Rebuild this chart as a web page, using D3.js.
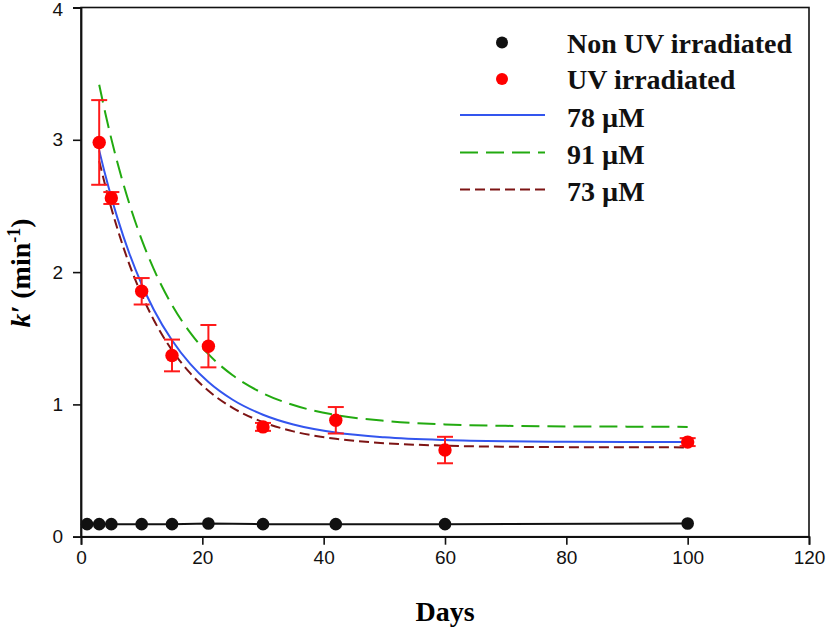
<!DOCTYPE html>
<html><head><meta charset="utf-8">
<script src="https://cdn.jsdelivr.net/npm/d3@7"></script>
<style>body{margin:0;background:#fff}</style>
</head><body>
<svg id="c" width="827" height="629"></svg>
<script>
// Non UV irradiated
const nonUvDays = [1, 3, 5, 10, 15, 21, 30, 42, 60, 100];
const nonUvK    = [0.095, 0.095, 0.095, 0.095, 0.095, 0.1, 0.095, 0.095, 0.095, 0.1];
// UV irradiated (mean and error)
const uvDays = [3, 5, 10, 15, 21, 30, 42, 60, 100];
const uvK    = [2.98, 2.56, 1.855, 1.37, 1.44, 0.83, 0.88, 0.655, 0.715];
const uvErr  = [0.32, 0.045, 0.1, 0.12, 0.16, 0.03, 0.1, 0.1, 0.03];
// Fitted curves
const fitDays = [3, 4, 5, 6, 8, 10, 12, 15, 18, 21, 25, 30, 35, 42, 50, 60, 70, 80, 90, 100];
const fit78 = [2.92, 2.735, 2.565, 2.41, 2.137, 1.908, 1.716, 1.485, 1.306, 1.169, 1.035, 0.922, 0.848, 0.787, 0.751, 0.730, 0.721, 0.718, 0.716, 0.716];
const fit91 = [3.416, 3.203, 3.007, 2.828, 2.512, 2.246, 2.022, 1.751, 1.542, 1.380, 1.220, 1.084, 0.995, 0.920, 0.876, 0.849, 0.838, 0.833, 0.832, 0.830];
const fit73 = [2.84, 2.654, 2.483, 2.328, 2.055, 1.828, 1.638, 1.410, 1.236, 1.103, 0.974, 0.866, 0.796, 0.740, 0.707, 0.688, 0.680, 0.677, 0.676, 0.675];
const xTicks = [0, 20, 40, 60, 80, 100, 120];
const yTicks = [0, 1, 2, 3, 4];
const legendLabels = ["Non UV irradiated", "UV irradiated", "78 µM", "91 µM", "73 µM"];

const svg = d3.select("#c");
const L = 81, R = 809, T = 7.5, B = 536.7;
const x = d3.scaleLinear().domain([0, 120]).range([L, R]);
const y = d3.scaleLinear().domain([0, 4]).range([B, T]);

const serif = "'Liberation Serif','Times New Roman',serif";
const sans = "'Liberation Sans',Arial,sans-serif";

// frame
svg.append("rect").attr("x", L).attr("y", T).attr("width", R - L).attr("height", B - T)
  .attr("fill", "none").attr("stroke", "#111").attr("stroke-width", 1.6);

// axes
const xAxis = svg.append("g").attr("transform", `translate(0,${B})`)
  .call(d3.axisBottom(x).tickValues(xTicks).tickSize(8).tickPadding(6).tickFormat(d3.format("d")));
const yAxis = svg.append("g").attr("transform", `translate(${L},0)`)
  .call(d3.axisLeft(y).tickValues(yTicks).tickSize(8).tickPadding(10).tickFormat(d3.format("d")));
[xAxis, yAxis].forEach(g => {
  g.select(".domain").attr("stroke", "#111").attr("stroke-width", 1.8);
  g.selectAll(".tick line").attr("stroke", "#111").attr("stroke-width", 1.6);
  g.selectAll(".tick text").attr("font-family", sans).attr("font-size", 19).attr("fill", "#111");
});
// keep the top label inside the page
yAxis.selectAll(".tick text").filter(d => d === 4).attr("dy", "0.42em");

// axis titles
svg.append("text").attr("x", (L + R) / 2).attr("y", 621).attr("text-anchor", "middle")
  .attr("font-family", serif).attr("font-weight", "bold").attr("font-size", 28).text("Days");
const yt = svg.append("text").attr("transform", "translate(30,273) rotate(-90)")
  .attr("text-anchor", "middle").attr("font-family", serif).attr("font-weight", "bold").attr("font-size", 28);
yt.append("tspan").attr("font-style", "italic").text("k′");
yt.append("tspan").text(" (min");
yt.append("tspan").attr("font-size", 18).attr("dy", -10).text("-1");
yt.append("tspan").attr("dy", 10).text(")");

// fitted curves
const line = d3.line().x(d => x(d[0])).y(d => y(d[1])).curve(d3.curveMonotoneX);
const fits = [
  {v: fit73, color: "#7d1414", dash: "10,5"},
  {v: fit91, color: "#22aa10", dash: "18,8"},
  {v: fit78, color: "#3355ee", dash: null}
];
fits.forEach(f => {
  svg.append("path").datum(fitDays.map((d, i) => [d, f.v[i]])).attr("d", line)
    .attr("fill", "none").attr("stroke", f.color).attr("stroke-width", 2)
    .attr("stroke-dasharray", f.dash);
});

// non-UV line and points
const lin = d3.line().x(d => x(d[0])).y(d => y(d[1]));
svg.append("path").datum(nonUvDays.map((d, i) => [d, nonUvK[i]])).attr("d", lin)
  .attr("fill", "none").attr("stroke", "#111").attr("stroke-width", 2);
svg.append("g").selectAll("circle").data(nonUvDays).join("circle")
  .attr("cx", d => x(d)).attr("cy", (d, i) => y(nonUvK[i])).attr("r", 6.3).attr("fill", "#111");

// UV error bars and points
const eg = svg.append("g").attr("stroke", "#ff1a1a").attr("stroke-width", 2);
uvDays.forEach((d, i) => {
  const cx = x(d), y1 = y(uvK[i] + uvErr[i]), y0 = y(uvK[i] - uvErr[i]);
  eg.append("line").attr("x1", cx).attr("x2", cx).attr("y1", y1).attr("y2", y0);
  eg.append("line").attr("x1", cx - 8).attr("x2", cx + 8).attr("y1", y1).attr("y2", y1);
  eg.append("line").attr("x1", cx - 8).attr("x2", cx + 8).attr("y1", y0).attr("y2", y0);
});
svg.append("g").selectAll("circle").data(uvDays).join("circle")
  .attr("cx", d => x(d)).attr("cy", (d, i) => y(uvK[i])).attr("r", 6.7).attr("fill", "#ff0000");

// legend
const lg = svg.append("g");
const rowsY = [52.5, 89, 126.5, 164, 201];
const textX = 567;
lg.append("circle").attr("cx", 502).attr("cy", rowsY[0] - 10).attr("r", 6).attr("fill", "#111");
lg.append("circle").attr("cx", 502).attr("cy", rowsY[1] - 10).attr("r", 6).attr("fill", "#ff0000");
[fits[2], fits[1], fits[0]].forEach((f, k) => {
  const yy = rowsY[k + 2] - 11.5;
  lg.append("line").attr("x1", 460).attr("x2", 545).attr("y1", yy).attr("y2", yy)
    .attr("stroke", f.color).attr("stroke-width", 2).attr("stroke-dasharray", f.dash);
});
legendLabels.forEach((t, i) => {
  lg.append("text").attr("x", textX).attr("y", rowsY[i]).attr("font-family", serif)
    .attr("font-weight", "bold").attr("font-size", 28).attr("fill", "#111").text(t);
});
</script>
</body></html>
